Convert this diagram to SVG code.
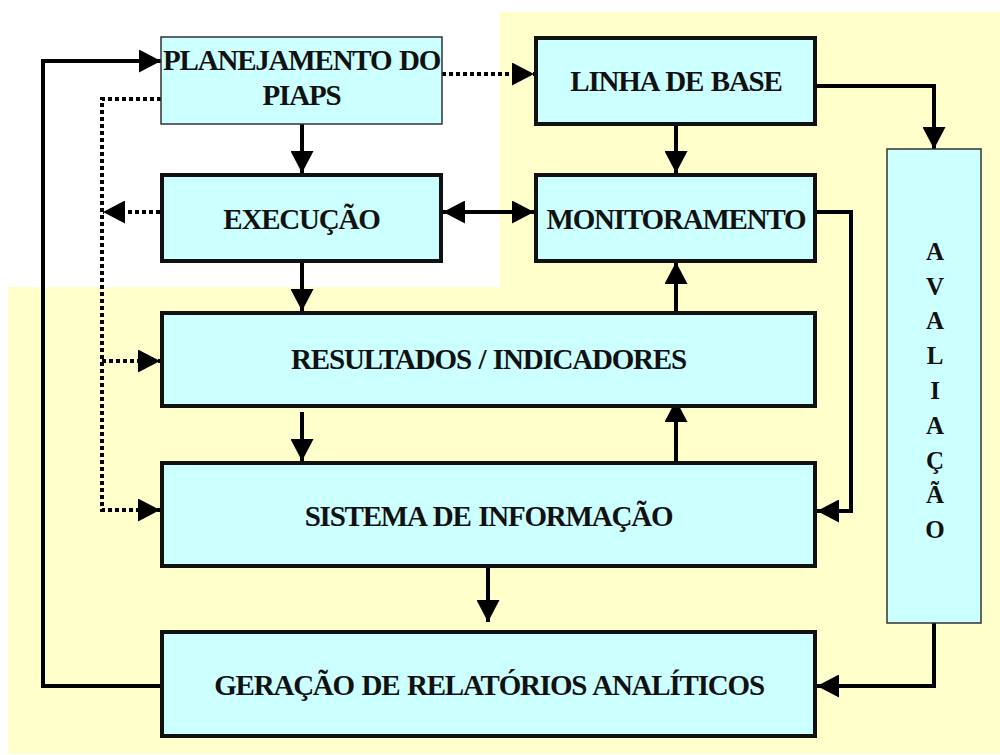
<svg xmlns="http://www.w3.org/2000/svg" width="1000" height="755" viewBox="0 0 1000 755">
<defs>
<style>
.box{fill:#CCFFFF;stroke:#111;stroke-width:4}
.thin{fill:#CCFFFF;stroke:#333;stroke-width:1.5}
.t{font-family:"Liberation Serif","Times New Roman",serif;font-weight:bold;font-size:29px;letter-spacing:-1.2px;word-spacing:1.5px;fill:#111;text-anchor:middle}
.v{font-family:"Liberation Serif","Times New Roman",serif;font-weight:bold;font-size:25px;fill:#111;text-anchor:middle}
.ln{fill:none;stroke:#000;stroke-width:4}
.dot{fill:none;stroke:#000;stroke-width:4;stroke-dasharray:4 3}
</style>
<marker id="ah" viewBox="0 0 22 23" refX="22" refY="11.5" markerWidth="22" markerHeight="23" markerUnits="userSpaceOnUse" orient="auto-start-reverse">
<path d="M0,0 L22,11.5 L0,23 Z" fill="#000"/>
</marker>
</defs>
<rect width="1000" height="755" fill="#fff"/>
<path d="M500,12 H1000 V754 H8 V287 H500 Z" fill="#FFFFCC"/>

<g id="connectors">
<polyline class="ln" points="160,686 43,686 43,61 161,61" marker-end="url(#ah)"/>
<polyline class="dot" points="161,99 102,99 102,510 160,510" marker-end="url(#ah)"/>
<line class="dot" x1="160" y1="212" x2="103" y2="212" marker-end="url(#ah)"/>
<line class="dot" x1="102" y1="361" x2="160" y2="361" marker-end="url(#ah)"/>
<line class="dot" x1="442" y1="74" x2="534" y2="74" marker-end="url(#ah)"/>
<line class="ln" x1="302" y1="124" x2="302" y2="173" marker-end="url(#ah)"/>
<line class="ln" x1="443" y1="212" x2="534" y2="212" marker-start="url(#ah)" marker-end="url(#ah)"/>
<line class="ln" x1="676" y1="126" x2="676" y2="173" marker-end="url(#ah)"/>
<polyline class="ln" points="817,86 934,86 934,149" marker-end="url(#ah)"/>
<line class="ln" x1="302" y1="262" x2="302" y2="311" marker-end="url(#ah)"/>
<line class="ln" x1="676" y1="311" x2="676" y2="262" marker-end="url(#ah)"/>
<line class="ln" x1="302" y1="412" x2="302" y2="461" marker-end="url(#ah)"/>
<line class="ln" x1="676" y1="461" x2="676" y2="400" marker-end="url(#ah)"/>
<polyline class="ln" points="817,212 851,212 851,511 817,511" marker-end="url(#ah)"/>
<line class="ln" x1="488" y1="561" x2="488" y2="622" marker-end="url(#ah)"/>
<polyline class="ln" points="934,623 934,686 817,686" marker-end="url(#ah)"/>
</g>

<g id="planejamento">
<rect class="thin" x="161" y="37" width="281" height="87"/>
<text class="t" x="301.5" y="70">PLANEJAMENTO DO</text>
<text class="t" x="301.5" y="105">PIAPS</text>
</g>
<g id="execucao">
<rect class="box" x="162" y="175" width="279" height="86"/>
<text class="t" x="301.5" y="229">EXECUÇÃO</text>
</g>
<g id="linha-de-base">
<rect class="box" x="536" y="38" width="279" height="86"/>
<text class="t" x="676" y="91">LINHA DE BASE</text>
</g>
<g id="monitoramento">
<rect class="box" x="536" y="175" width="279" height="86"/>
<text class="t" x="676" y="229">MONITORAMENTO</text>
</g>
<g id="resultados">
<rect class="box" x="162" y="313" width="653" height="93"/>
<text class="t" x="488.5" y="369">RESULTADOS / INDICADORES</text>
</g>
<g id="sistema">
<rect class="box" x="162" y="463" width="653" height="103"/>
<text class="t" x="488.5" y="526">SISTEMA DE INFORMAÇÃO</text>
</g>
<g id="geracao">
<rect class="box" x="162" y="632" width="653" height="104"/>
<text class="t" x="489" y="695">GERAÇÃO DE RELATÓRIOS ANALÍTICOS</text>
</g>
<g id="avaliacao">
<rect class="thin" x="887" y="149" width="94" height="474"/>
<text class="v" x="935" y="260">A</text>
<text class="v" x="935" y="295">V</text>
<text class="v" x="935" y="329">A</text>
<text class="v" x="935" y="364">L</text>
<text class="v" x="935" y="399">I</text>
<text class="v" x="935" y="434">A</text>
<text class="v" x="935" y="469">Ç</text>
<text class="v" x="935" y="503">Ã</text>
<text class="v" x="935" y="538">O</text>
</g>
</svg>
